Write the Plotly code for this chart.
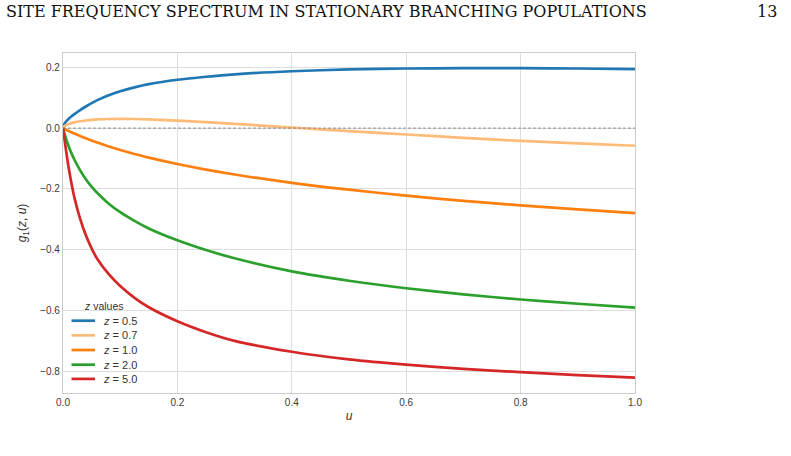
import plotly.graph_objects as go

u = [0, 0.0025, 0.005, 0.01, 0.015, 0.02, 0.03, 0.04, 0.05, 0.06, 0.08, 0.1,
     0.125, 0.15, 0.2, 0.25, 0.3, 0.4, 0.5, 0.6, 0.7, 0.8, 0.9, 1.0]

z_labels = ["0.5", "0.7", "1.0", "2.0", "5.0"]
g_z05 = [0, 0.014, 0.021, 0.031, 0.039, 0.046, 0.059, 0.071, 0.082, 0.092, 0.108, 0.121,
         0.134, 0.1445, 0.159, 0.169, 0.177, 0.187, 0.193, 0.196, 0.197, 0.197, 0.196, 0.194]
g_z07 = [0, 0.006, 0.009, 0.0135, 0.0165, 0.019, 0.0225, 0.025, 0.027, 0.0285, 0.030, 0.0305,
         0.030, 0.0285, 0.0245, 0.0195, 0.014, 0.002, -0.0097, -0.021, -0.032, -0.042, -0.0505, -0.058]
g_z10 = [0, -0.0024, -0.0048, -0.0095, -0.0138, -0.018, -0.026, -0.0336, -0.0408, -0.0476, -0.0604, -0.072,
         -0.085, -0.097, -0.118, -0.1365, -0.1525, -0.180, -0.2025, -0.222, -0.239, -0.254, -0.2675, -0.2795]
g_z20 = [0, -0.0175, -0.033, -0.0605, -0.084, -0.104, -0.139, -0.168, -0.1925, -0.2135, -0.2485, -0.2765,
         -0.305, -0.330, -0.369, -0.401, -0.428, -0.471, -0.502, -0.5265, -0.5465, -0.5635, -0.5775, -0.590]
g_z50 = [0, -0.035, -0.069, -0.131, -0.1835, -0.2285, -0.2985, -0.3525, -0.3955, -0.4305, -0.4805, -0.5195,
         -0.558, -0.589, -0.635, -0.671, -0.6995, -0.7355, -0.7605, -0.778, -0.7915, -0.8025, -0.812, -0.8205]

series = [g_z05, g_z07, g_z10, g_z20, g_z50]
colors = ["#1f77b4", "#ffbb78", "#ff7f0e", "#2ca02c", "#d62728"]

y_ticks = [-0.8, -0.6, -0.4, -0.2, 0.0, 0.2]
x_ticks = [0.0, 0.2, 0.4, 0.6, 0.8, 1.0]

# plot area in pixels (figure 791 x 456)
L, R, T, B = 63, 635, 53, 393
PW, PH = R - L, B - T


def px(x):
    return (x - L) / PW


def py(y):
    return (B - y) / PH


fig = go.Figure()
for lab, ys, c in zip(z_labels, series, colors):
    fig.add_trace(go.Scatter(
        x=u, y=ys, mode="lines", name=f"<i>z</i> = {lab}",
        line=dict(color=c, width=2.7, shape="spline", smoothing=0.8),
        showlegend=False,
    ))

fig.add_hline(y=0, line=dict(color="#808080", width=0.9, dash="3px,2px"))

axis_common = dict(
    showgrid=True, gridcolor="#dedede", gridwidth=1,
    showline=True, linecolor="#cccccc", linewidth=1.2, mirror=True,
    zeroline=False, ticks="",
    tickfont=dict(family="Liberation Sans, Arial", size=10, color="#3a3a3a"),
)

fig.update_layout(
    width=791, height=456,
    margin=dict(l=L, r=791 - R, t=T, b=456 - B),
    paper_bgcolor="white", plot_bgcolor="white",
    xaxis=dict(range=[0, 1], tickvals=x_ticks, tickformat=".1f",
               title=dict(text="<i>u</i>", font=dict(family="Liberation Sans, Arial", size=12, color="#333333"), standoff=4),
               **axis_common),
    yaxis=dict(range=[-0.871, 0.247], tickvals=y_ticks, tickformat=".1f",
               title=dict(text="<i>g</i><sub>1</sub>(<i>z</i>, <i>u</i>)", font=dict(family="Liberation Sans, Arial", size=12, color="#333333"), standoff=10),
               **axis_common),
    showlegend=False,
)

# legend drawn inside the axes, lower left
leg_font = dict(family="Liberation Sans, Arial", size=11, color="#333333")
fig.add_annotation(text="<i>z</i> values", xref="paper", yref="paper",
                   x=px(104), y=py(306), xanchor="center", yanchor="middle",
                   showarrow=False, font=dict(family="Liberation Sans, Arial", size=10.5, color="#333333"))
leg_y = [320.7, 335.3, 350.0, 364.7, 378.9]
for lab, c, yy in zip(z_labels, colors, leg_y):
    fig.add_shape(type="line", xref="paper", yref="paper",
                  x0=px(71.5), x1=px(95), y0=py(yy), y1=py(yy),
                  line=dict(color=c, width=2.7))
    fig.add_annotation(text=f"<i>z</i> = {lab}", xref="paper", yref="paper",
                       x=px(100.5), y=py(yy), xanchor="left", yanchor="middle",
                       showarrow=False, font=leg_font)

fig.add_annotation(text="SITE FREQUENCY SPECTRUM IN STATIONARY BRANCHING POPULATIONS",
                   xref="paper", yref="paper", x=px(4), y=py(12),
                   xanchor="left", yanchor="middle", showarrow=False,
                   font=dict(family="DejaVu Serif, Liberation Serif", size=16, color="#111111"))
fig.add_annotation(text="13", xref="paper", yref="paper", x=px(779), y=py(12),
                   xanchor="right", yanchor="middle", showarrow=False,
                   font=dict(family="DejaVu Serif, Liberation Serif", size=16, color="#111111"))

fig.write_html("out.html")
